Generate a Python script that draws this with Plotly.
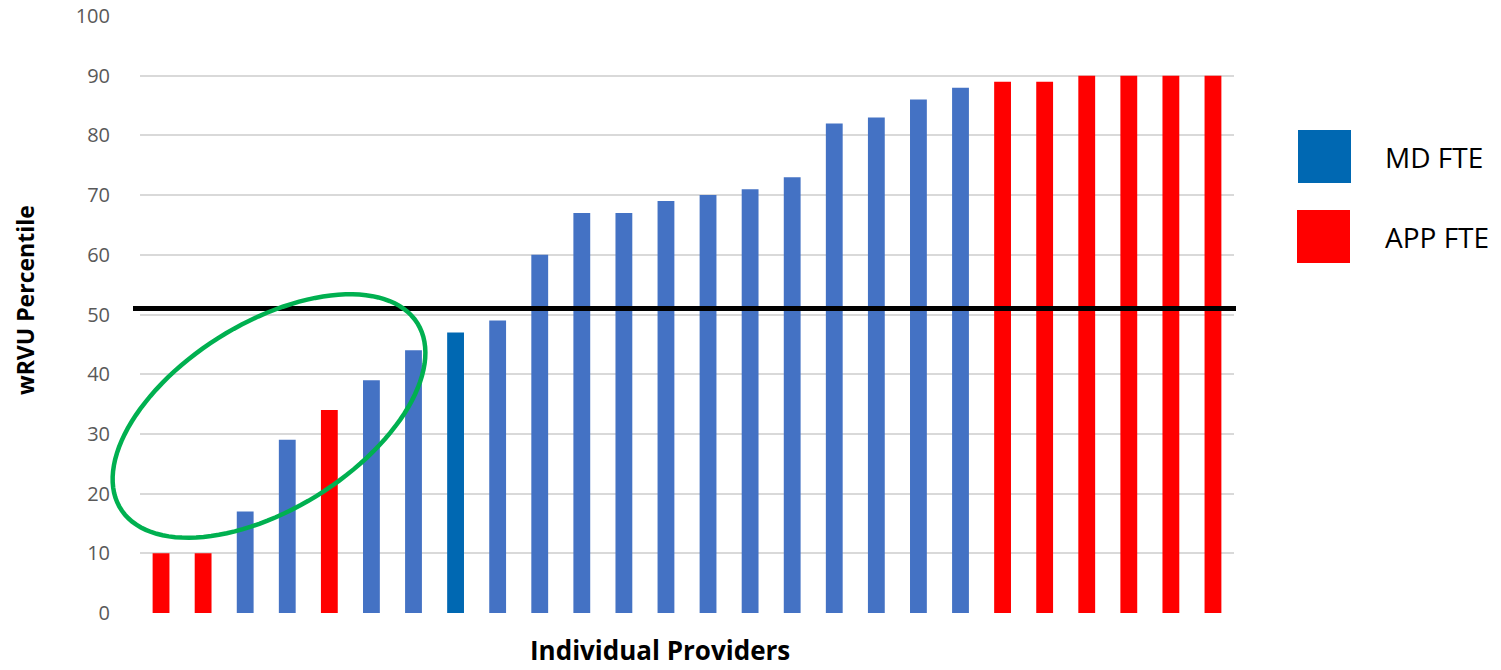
import numpy as np
import plotly.graph_objects as go

# ---- data ----
providers = list(range(1, 27))
percentiles = [10, 10, 17, 29, 34, 39, 44, 47, 49, 60, 67, 67, 69, 70, 71, 73,
               82, 83, 86, 88, 89, 89, 90, 90, 90, 90]
provider_type = ["APP", "APP", "MD", "MD", "APP", "MD", "MD", "MDH", "MD", "MD",
                 "MD", "MD", "MD", "MD", "MD", "MD", "MD", "MD", "MD", "MD",
                 "APP", "APP", "APP", "APP", "APP", "APP"]
target_percentile = 51
y_ticks = [0, 10, 20, 30, 40, 50, 60, 70, 80, 90, 100]
legend_labels = ["MD FTE", "APP FTE"]

# ---- styling ----
W, H = 1501, 670
ML, MR, MT, MB = 140, 267, 16, 57
color_map = {"MD": "#4472C4", "MDH": "#0068B2", "APP": "#FF0000"}
bar_colors = [color_map[t] for t in provider_type]
FONT = "Open Sans"

n = len(providers)
x_pos = list(range(n))

fig = go.Figure()
fig.add_trace(go.Bar(
    x=x_pos, y=percentiles,
    marker=dict(color=bar_colors, line=dict(width=0)),
    showlegend=False, hoverinfo="y",
))

plot_w = W - ML - MR
plot_h = H - MT - MB


def to_paper(px, py):
    return (np.asarray(px) - ML) / plot_w, (MT + plot_h - np.asarray(py)) / plot_h


shapes = []
# target line (extends slightly beyond the plot area)
x0p, _ = to_paper(133, 0)
x1p, _ = to_paper(1236, 0)
shapes.append(dict(type="line", xref="paper", yref="y", x0=float(x0p), x1=float(x1p),
                   y0=target_percentile, y1=target_percentile,
                   line=dict(color="black", width=5), layer="above"))

# green highlight ellipse (drawn in pixel geometry, converted to paper coords)
cx, cy, a, b, th = 269, 416, 175, 93, np.deg2rad(32)
phi = np.linspace(0, 2 * np.pi, 120)
ex = cx + a * np.cos(phi) * np.cos(th) - b * np.sin(phi) * np.sin(th)
ey = cy - (a * np.cos(phi) * np.sin(th) + b * np.sin(phi) * np.cos(th))
exp_, eyp = to_paper(ex, ey)
path = "M " + " L ".join(f"{u:.5f},{v:.5f}" for u, v in zip(exp_, eyp)) + " Z"
shapes.append(dict(type="path", xref="paper", yref="paper", path=path,
                   line=dict(color="#00B050", width=4.5), fillcolor="rgba(0,0,0,0)",
                   layer="above"))

# custom legend swatches
legend_boxes = [(1298, 130, 1351, 183, color_map["MDH"]),
                (1297, 210, 1350, 263, color_map["APP"])]
annotations = []
for (bx0, by0, bx1, by1, col), lab in zip(legend_boxes, legend_labels):
    p0 = to_paper(bx0, by1)
    p1 = to_paper(bx1, by0)
    shapes.append(dict(type="rect", xref="paper", yref="paper",
                       x0=float(p0[0]), y0=float(p0[1]), x1=float(p1[0]), y1=float(p1[1]),
                       fillcolor=col, line=dict(width=0)))
    tx, ty = to_paper(1383, (by0 + by1) / 2)
    annotations.append(dict(xref="paper", yref="paper", x=float(tx), y=float(ty), text=lab,
                            showarrow=False, xanchor="left", yanchor="middle",
                            font=dict(family=FONT, size=28, color="#000000")))

# axis titles
tx, ty = to_paper(660, 669)
annotations.append(dict(xref="paper", yref="paper", x=float(tx), y=float(ty),
                        text="<b>Individual Providers</b>", showarrow=False,
                        xanchor="center", yanchor="bottom", borderpad=0,
                        font=dict(family=FONT, size=26, color="#000000")))
tx, ty = to_paper(25, 300)
annotations.append(dict(xref="paper", yref="paper", x=float(tx), y=float(ty),
                        text="<b>wRVU Percentile</b>", showarrow=False, textangle=-90,
                        xanchor="center", yanchor="middle",
                        font=dict(family=FONT, size=23, color="#000000")))

fig.update_layout(
    width=W, height=H,
    margin=dict(l=ML, r=MR, t=MT, b=MB, autoexpand=False),
    paper_bgcolor="white", plot_bgcolor="white",
    bargap=0.6,
    shapes=shapes, annotations=annotations,
    showlegend=False,
    font=dict(family=FONT),
)
fig.update_xaxes(range=[-0.5, n - 0.5], showticklabels=False, showgrid=False,
                 zeroline=False, showline=False, fixedrange=True, automargin=False)
fig.update_yaxes(range=[0, 100], tickvals=y_ticks, showgrid=True, automargin=False,
                 gridcolor="#D9D9D9", gridwidth=1.5, zeroline=False, showline=False,
                 ticklabelstandoff=29,
                 tickfont=dict(family=FONT, size=20, color="#595959"))

fig.write_html("out.html")
